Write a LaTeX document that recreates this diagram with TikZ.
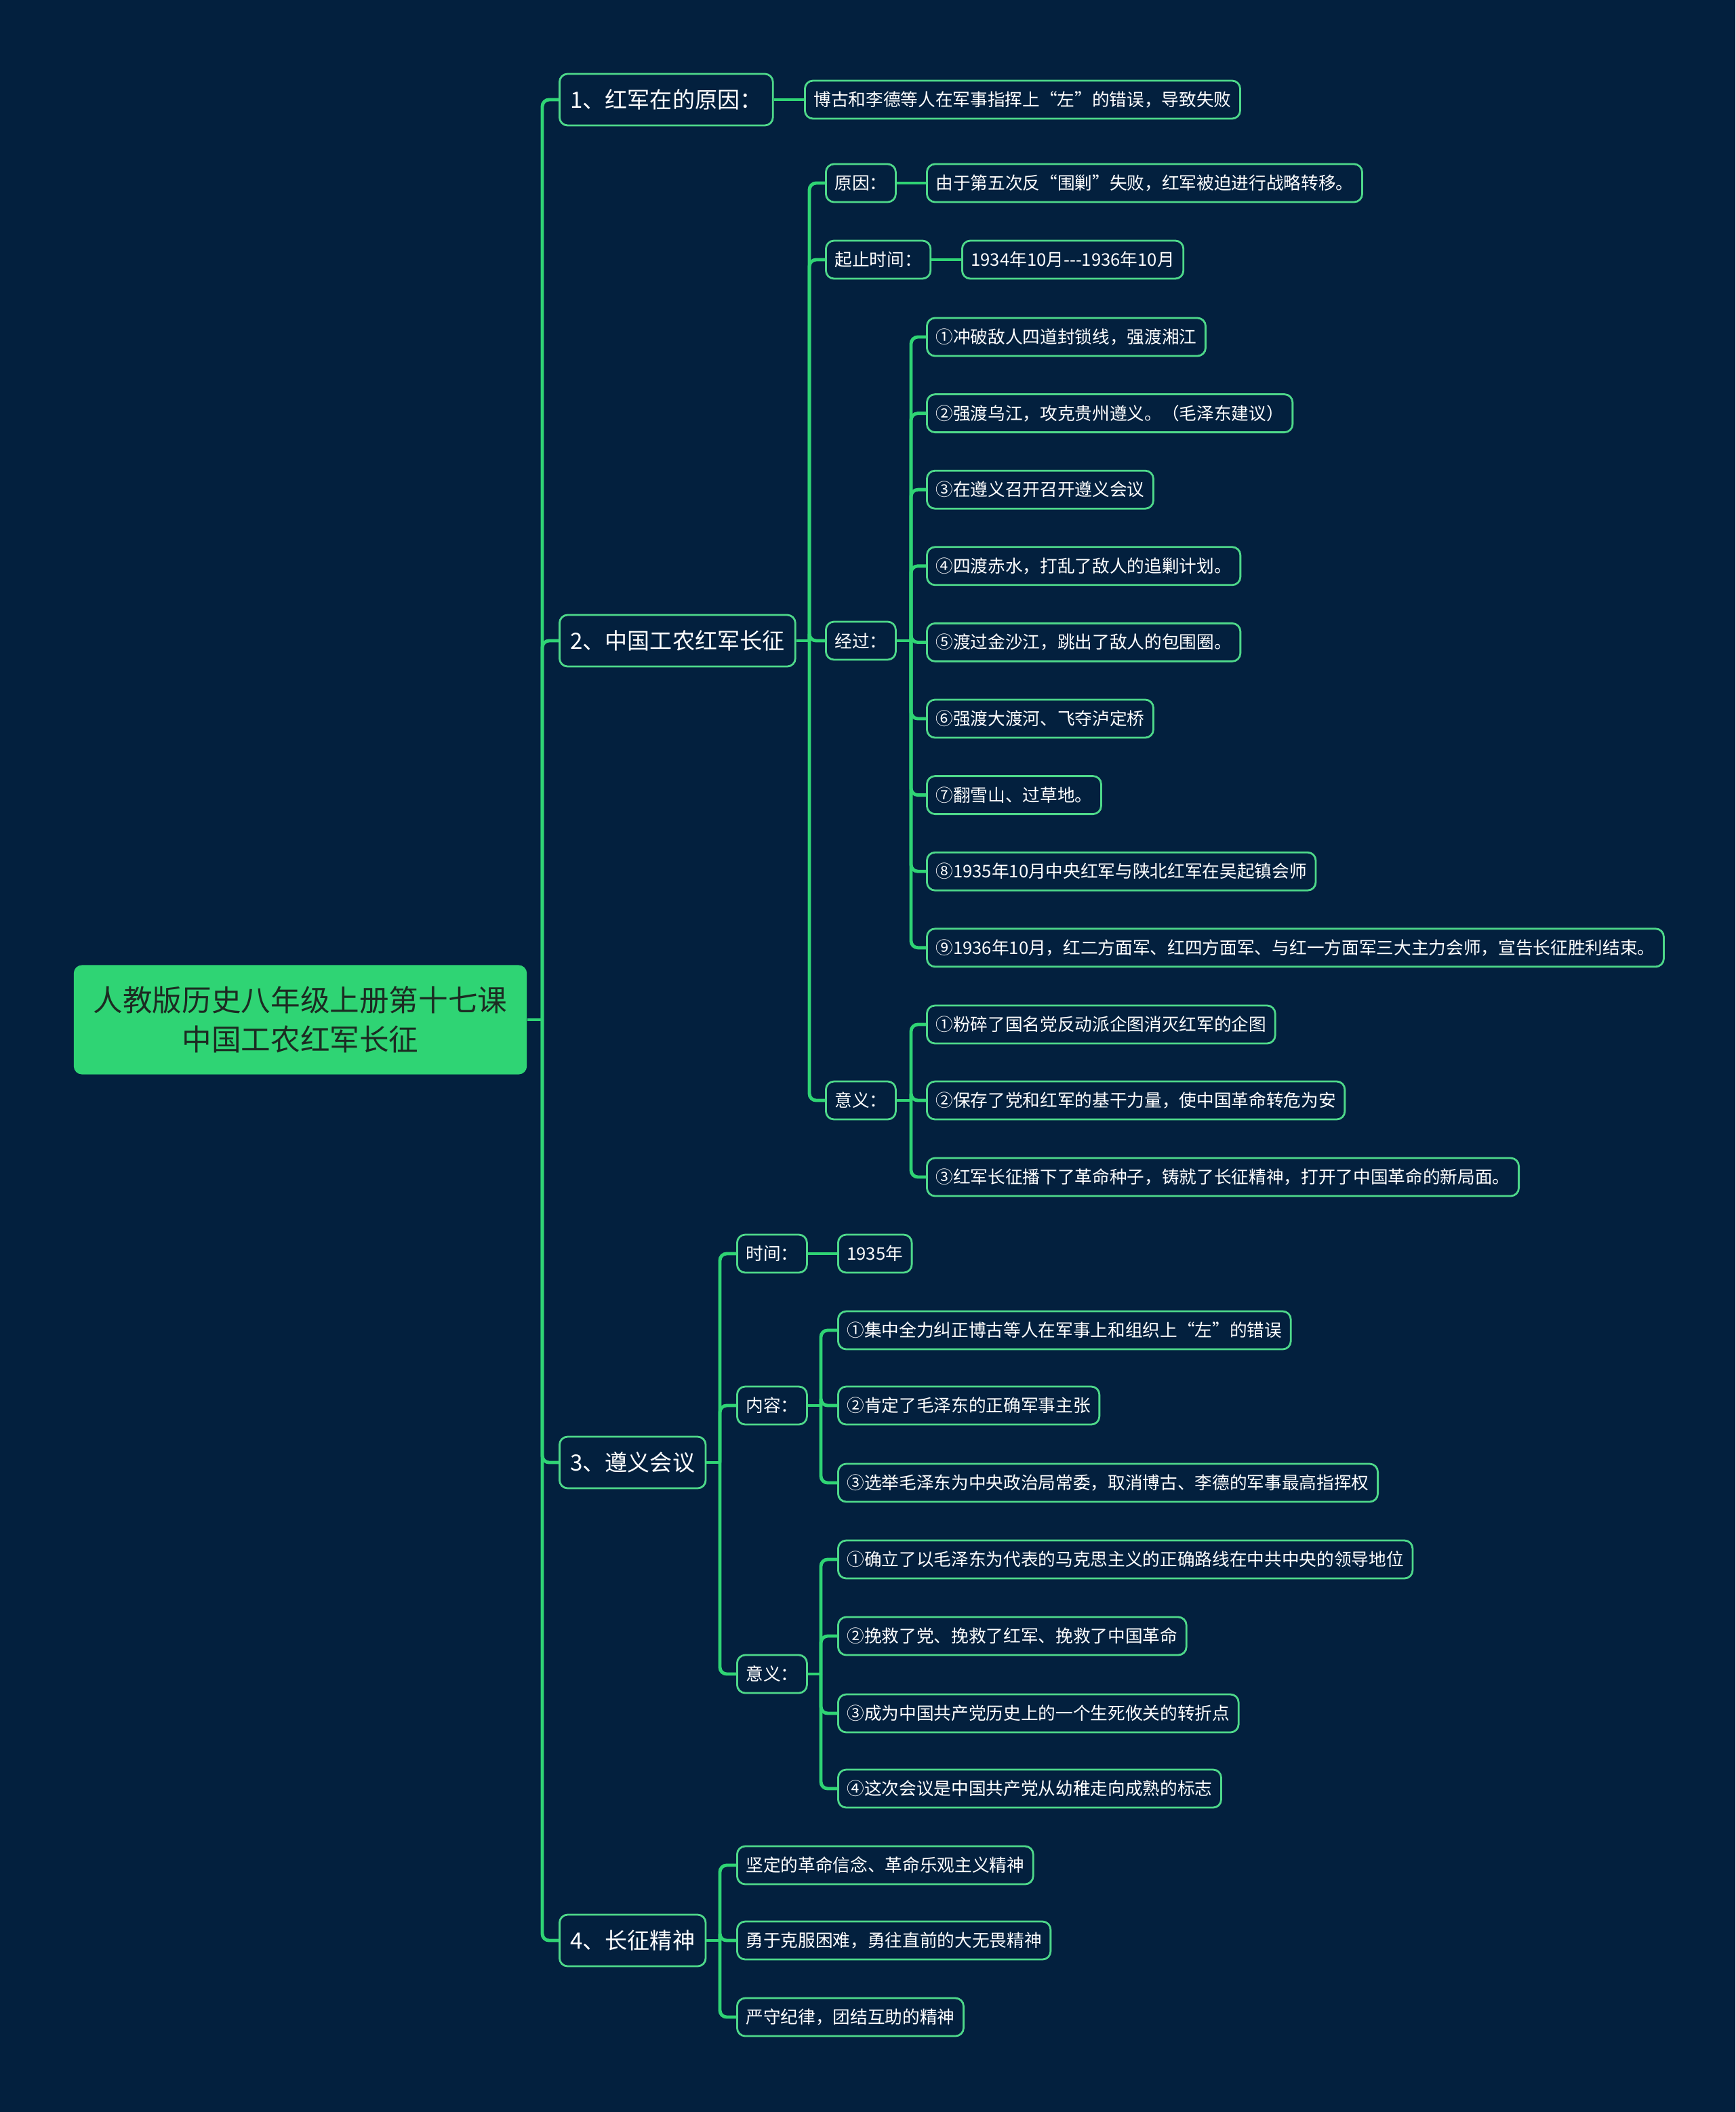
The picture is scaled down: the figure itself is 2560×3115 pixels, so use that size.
\documentclass[tikz,border=0pt]{standalone}
\usepackage{fontspec}
\setmainfont{Noto Sans CJK SC}
\usetikzlibrary{positioning,calc}
\definecolor{bg}{HTML}{03203E}
\definecolor{mint}{HTML}{2FD474}
\definecolor{edge}{HTML}{4ED88A}
\definecolor{rootink}{HTML}{1C2B22}

\begin{document}
\begin{tikzpicture}[x=0.01cm, y=-0.01cm,
  root/.style={rectangle, rounded corners=0.12cm, fill=mint, text=rootink, minimum width=6.68cm, minimum height=1.61cm, align=center, font=\fontsize{12.4pt}{16.4pt}\selectfont},
  topic/.style={rectangle, rounded corners=0.12cm, draw=edge, line width=0.8pt, fill=bg, text=white, minimum height=0.76cm, inner xsep=0.16cm, anchor=west, font=\fontsize{9.4pt}{11pt}\selectfont},
  leaf/.style={topic, minimum height=0.56cm, inner xsep=0.13cm, font=\fontsize{7.3pt}{9pt}\selectfont},
  link/.style={draw=mint, line width=1.4pt, rounded corners=0.1cm}
]
  \fill[bg] (0,0) rectangle (2560,3115);

  % root and main topics
  \node[root] (root) at (443,1504) {人教版历史八年级上册第十七课\\中国工农红军长征};
  \node[topic] (t1) at (824,147)  {1、红军在的原因：};
  \node[topic] (t2) at (824,945)  {2、中国工农红军长征};
  \node[topic] (t3) at (824,2157) {3、遵义会议};
  \node[topic] (t4) at (824,2862) {4、长征精神};
  \coordinate (jroot) at (800,1504);
  \draw[link] (root.east) -- (jroot);
  \foreach \t in {t1,t2,t3,t4}{\draw[link] (jroot) |- (\t.west);}

  % 1
  \node[leaf] (t1x) at (1186,147) {博古和李德等人在军事指挥上“左”的错误，导致失败};
  \draw[link] (t1.east) -- (t1x.west);

  % 2
  \node[leaf] (cause)   at (1217,270)  {原因：};
  \node[leaf] (causex)  at (1366,270)  {由于第五次反“围剿”失败，红军被迫进行战略转移。};
  \node[leaf] (period)  at (1217,383)  {起止时间：};
  \node[leaf] (periodx) at (1418,383)  {1934年10月-{}-{}-1936年10月};
  \node[leaf] (route)   at (1217,945)  {经过：};
  \node[leaf] (mean)    at (1217,1623) {意义：};
  \foreach \txt [count=\i] in {{①冲破敌人四道封锁线，强渡湘江},{②强渡乌江，攻克贵州遵义。（毛泽东建议）},{③在遵义召开召开遵义会议},{④四渡赤水，打乱了敌人的追剿计划。},{⑤渡过金沙江，跳出了敌人的包围圈。},{⑥强渡大渡河、飞夺泸定桥},{⑦翻雪山、过草地。},{⑧1935年10月中央红军与陕北红军在吴起镇会师},{⑨1936年10月，红二方面军、红四方面军、与红一方面军三大主力会师，宣告长征胜利结束。}}
    \node[leaf] (r\i) at (1366,{497+112.6*(\i-1)}) {\txt};
  \node[leaf] (m1) at (1366,1511) {①粉碎了国名党反动派企图消灭红军的企图};
  \node[leaf] (m2) at (1366,1623) {②保存了党和红军的基干力量，使中国革命转危为安};
  \node[leaf] (m3) at (1366,1736) {③红军长征播下了革命种子，铸就了长征精神，打开了中国革命的新局面。};
  \coordinate (j2) at (1194,945);
  \coordinate (jr) at (1344,945);
  \coordinate (jm) at (1344,1623);
  \draw[link] (t2.east) -- (j2);
  \foreach \c in {cause,period,route,mean}{\draw[link] (j2) |- (\c.west);}
  \draw[link] (cause.east) -- (causex.west);
  \draw[link] (period.east) -- (periodx.west);
  \draw[link] (route.east) -- (jr);
  \foreach \i in {1,...,9}{\draw[link] (jr) |- (r\i.west);}
  \draw[link] (mean.east) -- (jm);
  \foreach \i in {1,2,3}{\draw[link] (jm) |- (m\i.west);}

  % 3
  \node[leaf] (when)  at (1086,1849) {时间：};
  \node[leaf] (whenx) at (1235,1849) {1935年};
  \node[leaf] (cont)  at (1086,2073) {内容：};
  \node[leaf] (sig)   at (1086,2469) {意义：};
  \node[leaf] (c1) at (1235,1962) {①集中全力纠正博古等人在军事上和组织上“左”的错误};
  \node[leaf] (c2) at (1235,2073) {②肯定了毛泽东的正确军事主张};
  \node[leaf] (c3) at (1235,2187) {③选举毛泽东为中央政治局常委，取消博古、李德的军事最高指挥权};
  \node[leaf] (s1) at (1235,2300) {①确立了以毛泽东为代表的马克思主义的正确路线在中共中央的领导地位};
  \node[leaf] (s2) at (1235,2413) {②挽救了党、挽救了红军、挽救了中国革命};
  \node[leaf] (s3) at (1235,2527) {③成为中国共产党历史上的一个生死攸关的转折点};
  \node[leaf] (s4) at (1235,2638) {④这次会议是中国共产党从幼稚走向成熟的标志};
  \coordinate (j3) at (1062,2157);
  \coordinate (jc) at (1211,2073);
  \coordinate (js) at (1211,2469);
  \draw[link] (t3.east) -- (j3);
  \foreach \c in {when,cont,sig}{\draw[link] (j3) |- (\c.west);}
  \draw[link] (when.east) -- (whenx.west);
  \draw[link] (cont.east) -- (jc);
  \foreach \i in {1,2,3}{\draw[link] (jc) |- (c\i.west);}
  \draw[link] (sig.east) -- (js);
  \foreach \i in {1,...,4}{\draw[link] (js) |- (s\i.west);}

  % 4
  \node[leaf] (p1) at (1086,2751) {坚定的革命信念、革命乐观主义精神};
  \node[leaf] (p2) at (1086,2862) {勇于克服困难，勇往直前的大无畏精神};
  \node[leaf] (p3) at (1086,2975) {严守纪律，团结互助的精神};
  \coordinate (j4) at (1062,2862);
  \draw[link] (t4.east) -- (j4);
  \foreach \i in {1,2,3}{\draw[link] (j4) |- (p\i.west);}
\end{tikzpicture}
\end{document}
